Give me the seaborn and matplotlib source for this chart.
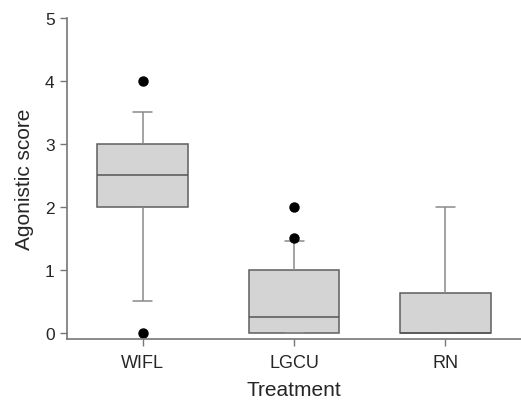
import pandas as pd
import matplotlib.pyplot as plt
import seaborn as sns

wifl = [0, 0.5, 2, 2, 2, 2.5, 3, 3, 3, 3.5, 4]
lgcu = [0, 0, 0, 0, 0, 0, 0, 0, 0.25, 0.25, 0.25, 0.5, 0.5, 0.75, 1, 1, 1, 1.25, 1.45, 1.5, 2]
rn = [0, 0, 0, 0, 0, 0.25, 0.625, 2, 2]
treatments = ["WIFL", "LGCU", "RN"]

df = pd.DataFrame({
    "Treatment": ["WIFL"] * len(wifl) + ["LGCU"] * len(lgcu) + ["RN"] * len(rn),
    "Agonistic score": wifl + lgcu + rn,
})

sns.set_style("ticks")
plt.rcParams["font.family"] = ["Liberation Sans", "DejaVu Sans"]

fig = plt.figure(figsize=(5.21, 4.02), dpi=100)
ax = fig.add_axes([0.129, 0.154, 0.871, 0.799])

sns.boxplot(
    data=df,
    x="Treatment",
    y="Agonistic score",
    order=treatments,
    width=0.6,
    whis=(10, 90),
    color="#d4d4d4",
    saturation=1,
    linecolor="#5e5e5e",
    linewidth=1.1,
    capwidths=0.125,
    medianprops=dict(color="#555555", linewidth=1.1),
    whiskerprops=dict(color="#8a8a8a", linewidth=1.1),
    capprops=dict(color="#8a8a8a", linewidth=1.1),
    flierprops=dict(marker="o", markerfacecolor="black",
                    markeredgecolor="black", markersize=6.5),
    ax=ax,
)

ax.set_xlim(-0.5, 2.5)
ax.set_ylim(-0.1, 5)
ax.set_yticks([0, 1, 2, 3, 4, 5])

ax.set_xlabel("Treatment", fontsize=15, labelpad=6)
ax.set_ylabel("Agonistic score", fontsize=15, labelpad=8)
ax.tick_params(axis="x", labelsize=13, length=5, width=1, color="#777777", pad=6)
ax.tick_params(axis="y", labelsize=12.5, length=5, width=1, color="#777777", pad=4)

sns.despine(ax=ax)
for side in ["left", "bottom"]:
    ax.spines[side].set_color("#777777")
    ax.spines[side].set_linewidth(1.2)

plt.savefig("out.png", dpi=100)
